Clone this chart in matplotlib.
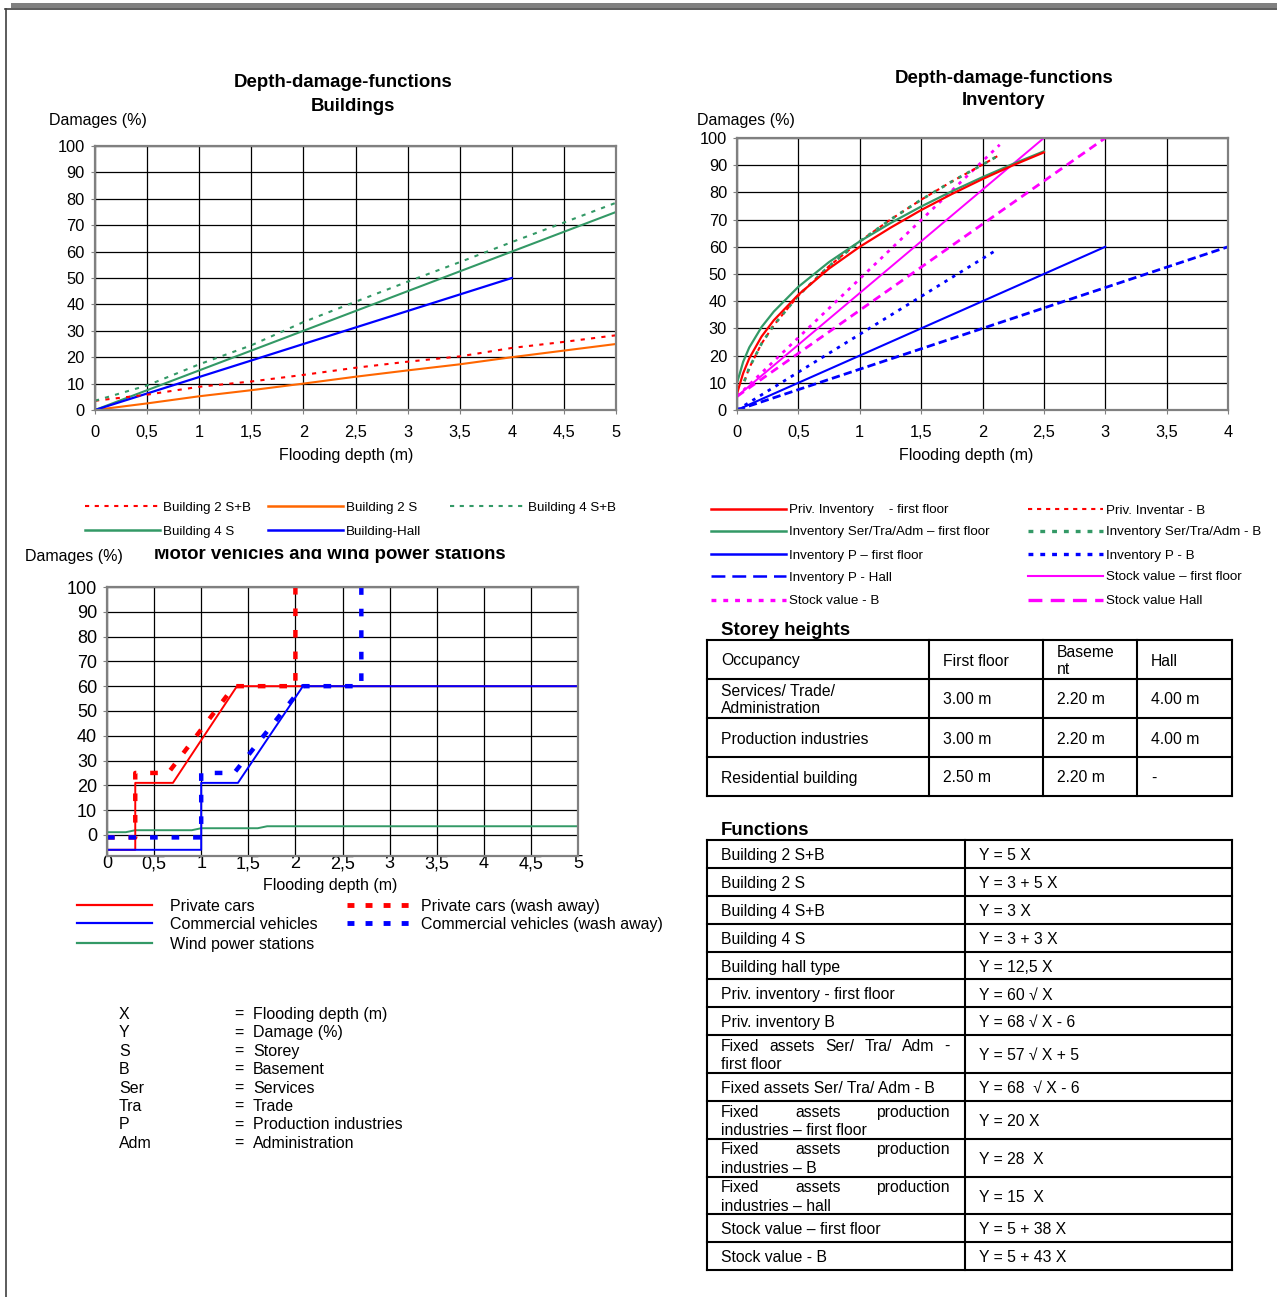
import matplotlib
matplotlib.use('Agg')
import matplotlib.pyplot as plt
from matplotlib.lines import Line2D
from matplotlib.patches import Rectangle

# ---------------- data ----------------
# Buildings
bld_x = [0, 0.5, 1, 1.5, 2, 2.5, 3, 3.5, 4, 4.5, 5]
bld_2sb = [3.5, 5.8, 8.8, 10.8, 13.3, 16.0, 18.3, 20.3, 23.5, 25.8, 28.3]
bld_2s = [0, 2.5, 5.2, 7.5, 10.0, 12.6, 15.0, 17.3, 20.0, 22.5, 25.0]
bld_4sb = [3.5, 9.3, 17.3, 24.5, 33.3, 41.0, 48.6, 56.0, 63.6, 71.0, 78.5]
bld_4s = [0, 7.5, 15.0, 22.5, 30.0, 37.5, 45.0, 52.5, 60.0, 67.5, 75.0]
hall_x = [0, 1, 2, 3, 4]
hall = [0, 12.5, 25.0, 37.5, 50.0]

# Inventory
sq_x = [0, 0.02, 0.05, 0.1, 0.2, 0.3, 0.5, 0.75, 1, 1.25, 1.5, 1.75, 2, 2.25, 2.5]
priv_ff = [6, 9, 13.5, 19, 27, 33, 42.4, 52, 60, 67, 73.5, 79.4, 84.9, 90, 94.7]
ser_ff = [10, 13, 17.7, 23, 30.5, 36.2, 45.3, 54.4, 62, 68.7, 74.8, 80.4, 85.6, 90.5, 95.1]
b_x = [0.06, 0.1, 0.2, 0.3, 0.5, 0.75, 1, 1.25, 1.5, 1.75, 2, 2.14]
priv_b = [10.6, 15.5, 24.4, 31.2, 42.1, 52.9, 62, 70, 77.3, 84, 90.2, 93.8]
ser_b = [10.6, 15.5, 24.4, 31.2, 42.1, 52.9, 62, 70, 77.3, 84, 90.2, 93.8]
p_ff_x, p_ff = [0, 3], [0, 60]
p_b_x, p_b = [0, 2.12], [0, 59]
p_hall_x, p_hall = [0, 4], [0, 60]
stock_ff_x, stock_ff = [0, 2.5], [5, 100]
stock_b_x, stock_b = [0, 2.14], [5, 97.5]
stock_hall_x, stock_hall = [0, 3], [5, 100]

# Motor vehicles / wind
cars_x = [0, 0.3, 0.3, 0.7, 1.38, 5]
cars_y = [-6, -6, 21, 21, 60, 60]
comm_x = [0, 1.0, 1.0, 1.39, 2.08, 5]
comm_y = [-6, -6, 21, 21, 60, 60]
cars_wash_x = [0, 0.3, 0.3, 0.65, 1.35, 2.0, 2.0]
cars_wash_y = [-1, -1, 25, 25, 60, 60, 100]
comm_wash_x = [0, 1.0, 1.0, 1.35, 2.08, 2.7, 2.7]
comm_wash_y = [-1, -1, 25, 25, 60, 60, 100]
wind_x = [0, 0.2, 0.3, 0.9, 1.0, 1.6, 1.7, 5]
wind_y = [1.1, 1.1, 1.9, 1.9, 2.7, 2.7, 3.5, 3.5]

tick5 = ['0', '0,5', '1', '1,5', '2', '2,5', '3', '3,5', '4', '4,5', '5']
tick4 = ['0', '0,5', '1', '1,5', '2', '2,5', '3', '3,5', '4']
yticks = [0, 10, 20, 30, 40, 50, 60, 70, 80, 90, 100]

storey_head = ['Occupancy', 'First floor', 'Baseme\nnt', 'Hall']
storey_rows = [['Services/ Trade/\nAdministration', '3.00 m', '2.20 m', '4.00 m'],
               ['Production industries', '3.00 m', '2.20 m', '4.00 m'],
               ['Residential building', '2.50 m', '2.20 m', '-']]

func_labels = ['Building 2 S+B', 'Building 2 S', 'Building 4 S+B', 'Building 4 S',
               'Building hall type', 'Priv. inventory - first floor', 'Priv. inventory B',
               'Fixed assets Ser/ Tra/ Adm -\nfirst floor', 'Fixed assets Ser/ Tra/ Adm - B',
               'Fixed assets production\nindustries \u2013 first floor',
               'Fixed assets production\nindustries \u2013 B',
               'Fixed assets production\nindustries \u2013 hall',
               'Stock value \u2013 first floor', 'Stock value - B']
func_formulas = ['Y = 5 X', 'Y = 3 + 5 X', 'Y = 3 X', 'Y = 3 + 3 X', 'Y = 12,5 X',
                 'Y = 60 \u221a X', 'Y = 68 \u221a X - 6', 'Y = 57 \u221a X + 5',
                 'Y = 68  \u221a X - 6', 'Y = 20 X', 'Y = 28  X', 'Y = 15  X',
                 'Y = 5 + 38 X', 'Y = 5 + 43 X']

abbr_keys = ['X', 'Y', 'S', 'B', 'Ser', 'Tra', 'P', 'Adm']
abbr_vals = ['Flooding depth (m)', 'Damage (%)', 'Storey', 'Basement', 'Services',
             'Trade', 'Production industries', 'Administration']

# ---------------- styles ----------------
RED, ORA, GRN, BLU, MAG = '#FF0000', '#FF6600', '#339966', '#0000FF', '#FF00FF'
plt.rcParams['font.family'] = ['Liberation Sans', 'DejaVu Sans']
plt.rcParams['lines.scale_dashes'] = False

W, H = 1277, 1297
fig = plt.figure(figsize=(W / 100, H / 100), dpi=100)
bg = fig.add_axes([0, 0, 1, 1])
bg.set_xlim(0, W)
bg.set_ylim(H, 0)
bg.axis('off')


def ax_at(l, t, r, b):
    return fig.add_axes([l / W, 1 - b / H, (r - l) / W, (b - t) / H])


def style(ax, xmax, labels, ylim, fs, xpad, tlen):
    ax.set_xlim(0, xmax)
    ax.set_ylim(*ylim)
    ax.set_xticks([i * 0.5 for i in range(len(labels))])
    ax.set_xticklabels(labels)
    ax.set_yticks(yticks)
    ax.grid(True, color='black', lw=0.9)
    ax.set_axisbelow(True)
    for s in ax.spines.values():
        s.set_color('#808080')
        s.set_linewidth(1.6)
    ax.tick_params(axis='x', labelsize=fs, length=tlen, pad=xpad, color='#808080')
    ax.tick_params(axis='y', labelsize=fs, length=3, pad=4.2, color='#808080')


def txt(x, y, s, fs, dy=1.5, **kw):
    kw.setdefault('va', 'center')
    kw.setdefault('ha', 'left')
    return bg.text(x, y + dy, s, fontsize=fs, color='black', **kw)


def handle(x0, x1, y, **kw):
    bg.add_line(Line2D([x0, x1], [y, y], **kw))


# ---------------- page frame ----------------
bg.add_patch(Rectangle((11, 2.5), W - 11, 5, color='#808080', lw=0))
bg.plot([5, W], [8.5, 8.5], color='#404040', lw=1.2)
bg.plot([5.5, 5.5], [8.5, H], color='#404040', lw=1.2)

# ---------------- Buildings chart ----------------
a1 = ax_at(95, 146, 616, 410)
style(a1, 5, tick5, (0, 100), 11.8, 7.6, 3)
a1.plot(bld_x, bld_2s, color=ORA, lw=1.5)
a1.plot(bld_x, bld_4s, color=GRN, lw=1.5)
a1.plot(hall_x, hall, color=BLU, lw=1.6)
a1.plot(bld_x, bld_2sb, color=RED, lw=1.5, dashes=(3, 4.5))
a1.plot(bld_x, bld_4sb, color=GRN, lw=1.5, dashes=(3, 4.5))
txt(343, 81, 'Depth-damage-functions', 13.4, ha='center', weight='bold')
txt(353, 105, 'Buildings', 13.4, ha='center', weight='bold')
txt(49, 119, 'Damages (%)', 11.5)
txt(346, 454, 'Flooding depth (m)', 11.5, ha='center')

leg1 = [(85, 160, 506, 'Building 2 S+B', dict(color=RED, lw=1.5, dashes=(3, 4))),
        (268, 343, 506, 'Building 2 S', dict(color=ORA, lw=1.8)),
        (450, 525, 506, 'Building 4 S+B', dict(color=GRN, lw=1.5, dashes=(3, 4))),
        (85, 160, 530, 'Building 4 S', dict(color=GRN, lw=1.8)),
        (268, 343, 530, 'Building-Hall', dict(color=BLU, lw=1.8))]
for x0, x1, y, lab, st in leg1:
    handle(x0, x1, y, **st)
    txt(x1 + 3, y, lab, 9.6)

# ---------------- Inventory chart ----------------
a2 = ax_at(737, 138, 1228, 410)
style(a2, 4, tick4, (0, 100), 11.8, 7.6, 3)
a2.plot(p_ff_x, p_ff, color=BLU, lw=1.5)
a2.plot(p_b_x, p_b, color=BLU, lw=2, dashes=(2.5, 4))
a2.plot(p_hall_x, p_hall, color=BLU, lw=2, dashes=(6, 3))
a2.plot(stock_ff_x, stock_ff, color=MAG, lw=1.4)
a2.plot(stock_b_x, stock_b, color=MAG, lw=2, dashes=(2.5, 4))
a2.plot(stock_hall_x, stock_hall, color=MAG, lw=2, dashes=(6, 4))
a2.plot(b_x, priv_b, color=RED, lw=1.5, dashes=(3, 3))
a2.plot(b_x, ser_b, color=GRN, lw=2, dashes=(2.5, 4.5))
a2.plot(sq_x, ser_ff, color=GRN, lw=1.6)
a2.plot(sq_x, priv_ff, color=RED, lw=1.6)
txt(1004, 77, 'Depth-damage-functions', 13.4, ha='center', weight='bold')
txt(1004, 99, 'Inventory', 13.4, ha='center', weight='bold')
txt(697, 119, 'Damages (%)', 11.5)
txt(966, 454, 'Flooding depth (m)', 11.5, ha='center')

leg2 = [(711, 786, 509, 'Priv. Inventory    - first floor', dict(color=RED, lw=1.8)),
        (711, 786, 531, 'Inventory Ser/Tra/Adm \u2013 first floor', dict(color=GRN, lw=1.8)),
        (711, 786, 554, 'Inventory P \u2013 first floor', dict(color=BLU, lw=1.8)),
        (711, 786, 576, 'Inventory P - Hall', dict(color=BLU, lw=1.8, dashes=(10, 5))),
        (711, 786, 600, 'Stock value - B', dict(color=MAG, lw=2.4, dashes=(3.5, 5))),
        (1028, 1103, 509, 'Priv. Inventar - B', dict(color=RED, lw=1.5, dashes=(3, 3.5))),
        (1028, 1103, 531, 'Inventory Ser/Tra/Adm - B', dict(color=GRN, lw=2.4, dashes=(3.5, 5))),
        (1028, 1103, 554, 'Inventory P - B', dict(color=BLU, lw=2.4, dashes=(3.5, 5))),
        (1028, 1103, 576, 'Stock value \u2013 first floor', dict(color=MAG, lw=1.5)),
        (1028, 1103, 600, 'Stock value Hall', dict(color=MAG, lw=2.4, dashes=(10, 6)))]
for x0, x1, y, lab, st in leg2:
    handle(x0, x1, y, **st)
    txt(x1 + 3, y, lab, 9.6)

# ---------------- Motor vehicles chart ----------------
a3 = ax_at(107, 587, 578, 856)
style(a3, 5, tick5, (-8.5, 100), 13, -0.5, 0)
a3.plot(wind_x, wind_y, color=GRN, lw=1.4)
a3.plot(cars_x, cars_y, color=RED, lw=1.4)
a3.plot(comm_x, comm_y, color=BLU, lw=1.4)
a3.plot(cars_wash_x, cars_wash_y, color=RED, lw=3.2, dashes=(5.5, 10))
a3.plot(comm_wash_x, comm_wash_y, color=BLU, lw=3.2, dashes=(5.5, 10))
txt(329.5, 559, 'Motor vehicles and wind power stations', 13.4, dy=0, ha='center',
    va='baseline', weight='bold')
bg.add_patch(Rectangle((140, 538), 390, 11, color='white', lw=0, zorder=5))
txt(25, 555, 'Damages (%)', 11.5)
txt(330, 884, 'Flooding depth (m)', 11.5, ha='center')

leg3 = [(77, 152, 905, 170, 'Private cars', dict(color=RED, lw=1.6)),
        (77, 152, 923, 170, 'Commercial vehicles', dict(color=BLU, lw=1.6)),
        (77, 152, 943, 170, 'Wind power stations', dict(color=GRN, lw=1.6)),
        (347, 418, 905, 421, 'Private cars (wash away)', dict(color=RED, lw=3.5, dashes=(5, 8))),
        (347, 418, 923, 421, 'Commercial vehicles (wash away)', dict(color=BLU, lw=3.5, dashes=(5, 8)))]
for x0, x1, y, tx, lab, st in leg3:
    handle(x0, x1, y, **st)
    txt(tx, y, lab, 11.5)

# ---------------- abbreviations ----------------
for i, (k, v) in enumerate(zip(abbr_keys, abbr_vals)):
    y = 1013 + i * 18.4
    txt(119, y, k, 11.5)
    txt(234, y, '=', 11.5)
    txt(253, y, v, 11.5)

# ---------------- Storey heights table ----------------
txt(721, 629, 'Storey heights', 13.4, weight='bold')
sc = [707, 929, 1043, 1137, 1232]
sr = [640, 679, 718, 757, 796]
for x in sc:
    bg.plot([x, x], [sr[0], sr[-1]], color='black', lw=1.5)
for y in sr:
    bg.plot([sc[0], sc[-1]], [y, y], color='black', lw=1.5)
for r, row in enumerate([storey_head] + storey_rows):
    yc = (sr[r] + sr[r + 1]) / 2
    for c, val in enumerate(row):
        txt(sc[c] + 14, yc, val, 11.3, linespacing=1.1)

# ---------------- Functions table ----------------
txt(721, 829, 'Functions', 13.4, weight='bold')
renderer = fig.canvas.get_renderer()


def justify(words, x0, x1, y, fs):
    ts = [txt(x0, y, w, fs) for w in words]
    widths = [t.get_window_extent(renderer).width for t in ts]
    gap = (x1 - x0 - sum(widths)) / (len(words) - 1)
    x = x0
    for t, w in zip(ts, widths):
        t.set_x(x)
        x += w + gap


fc = [707, 965, 1232]
y = 840.0
bounds = [y]
for lab in func_labels:
    y += 37.8 if '\n' in lab else 27.9
    bounds.append(y)
for x in fc:
    bg.plot([x, x], [bounds[0], bounds[-1]], color='black', lw=1.5)
for b in bounds:
    bg.plot([fc[0], fc[-1]], [b, b], color='black', lw=1.5)
for i, (lab, f) in enumerate(zip(func_labels, func_formulas)):
    yc = (bounds[i] + bounds[i + 1]) / 2
    if '\n' in lab:
        l1, l2 = lab.split('\n')
        justify(l1.split(), 721, 950, yc - 9.3, 11.3)
        txt(721, yc + 9.3, l2, 11.3)
    else:
        txt(721, yc, lab, 11.3)
    txt(979, yc, f, 11.3)

fig.savefig('out.png', dpi=100)
